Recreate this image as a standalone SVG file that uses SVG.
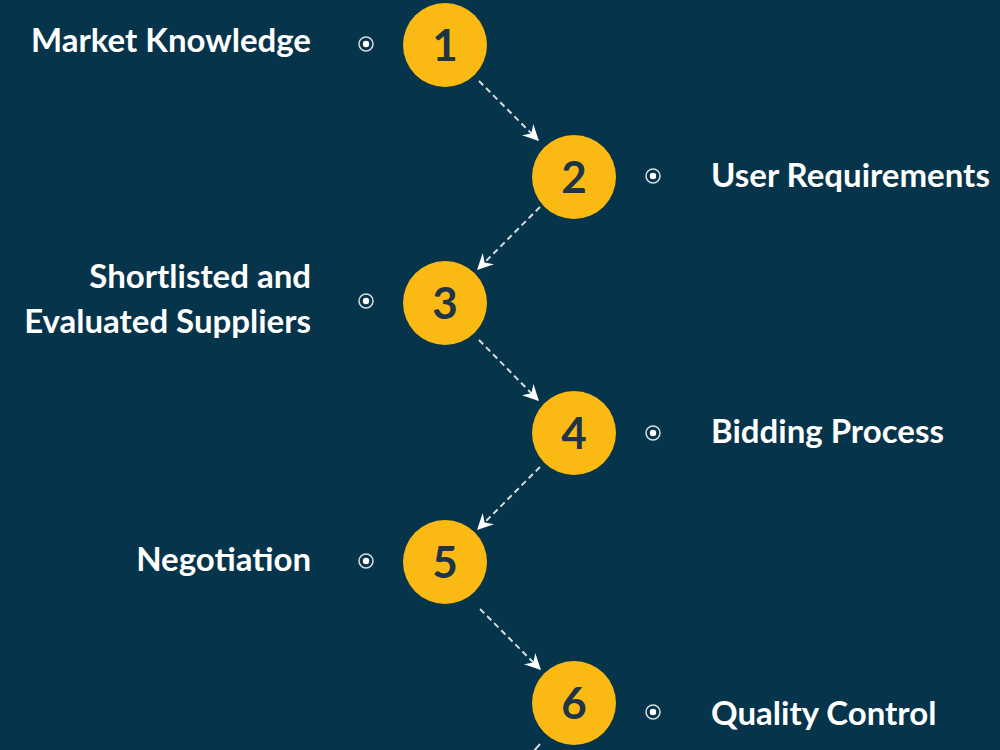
<svg xmlns="http://www.w3.org/2000/svg" width="1000" height="750" viewBox="0 0 1000 750">
<defs>
<marker id="ah" viewBox="0 0 12 12" refX="11" refY="6" markerWidth="16" markerHeight="16" markerUnits="userSpaceOnUse" orient="auto">
<path d="M0,0 L12,6 L0,12 L4,6 z" fill="#ffffff"/>
</marker>
<style>
.c{fill:#FBB913;}
.n{font-family:Lato,"Liberation Sans",sans-serif;font-weight:bold;font-size:44px;fill:#1E3547;text-anchor:middle;}
.t{font-family:Lato,"Liberation Sans",sans-serif;font-weight:bold;font-size:33px;fill:#ffffff;}
.l{text-anchor:end;}
.ring{fill:none;stroke:#d8dde2;stroke-width:1.5;}
.dot{fill:#ffffff;}
.e{stroke:#d5dbe0;stroke-width:2;stroke-dasharray:6 4;fill:none;marker-end:url(#ah);}
</style>
</defs>
<rect width="1000" height="750" fill="#06344A"/>
<g id="connectors">
<line class="e" x1="479" y1="81" x2="538" y2="140"/>
<line class="e" x1="540" y1="207" x2="478" y2="269"/>
<line class="e" x1="479" y1="340" x2="538" y2="400"/>
<line class="e" x1="540" y1="467" x2="478" y2="529"/>
<line class="e" x1="480" y1="609" x2="540" y2="669"/>
<line x1="540" y1="744" x2="533" y2="752" stroke="#d5dbe0" stroke-width="2"/>
</g>
<g id="node1">
<circle class="c" cx="445" cy="45" r="42"/>
<text class="n" x="445" y="61">1</text>
<circle class="ring" cx="366" cy="44" r="7"/><circle class="dot" cx="366" cy="44" r="3.2"/>
<text class="t l" x="311" y="52">Market Knowledge</text>
</g>
<g id="node2">
<circle class="c" cx="574" cy="177" r="42"/>
<text class="n" x="574" y="193">2</text>
<circle class="ring" cx="653" cy="176" r="7"/><circle class="dot" cx="653" cy="176" r="3.2"/>
<text class="t" x="711" y="187">User Requirements</text>
</g>
<g id="node3">
<circle class="c" cx="445" cy="303" r="42"/>
<text class="n" x="445" y="319">3</text>
<circle class="ring" cx="366" cy="301" r="7"/><circle class="dot" cx="366" cy="301" r="3.2"/>
<text class="t l" x="311" y="288">Shortlisted and</text>
<text class="t l" x="311" y="333">Evaluated Suppliers</text>
</g>
<g id="node4">
<circle class="c" cx="574" cy="433" r="42"/>
<text class="n" x="574" y="449">4</text>
<circle class="ring" cx="653" cy="433" r="7"/><circle class="dot" cx="653" cy="433" r="3.2"/>
<text class="t" x="711" y="443">Bidding Process</text>
</g>
<g id="node5">
<circle class="c" cx="445" cy="562" r="42"/>
<text class="n" x="445" y="578">5</text>
<circle class="ring" cx="366" cy="561" r="7"/><circle class="dot" cx="366" cy="561" r="3.2"/>
<text class="t l" x="311" y="571">Negotiation</text>
</g>
<g id="node6">
<circle class="c" cx="574" cy="703" r="42"/>
<text class="n" x="574" y="719">6</text>
<circle class="ring" cx="653" cy="712" r="7"/><circle class="dot" cx="653" cy="712" r="3.2"/>
<text class="t" x="711" y="725">Quality Control</text>
</g>
</svg>
